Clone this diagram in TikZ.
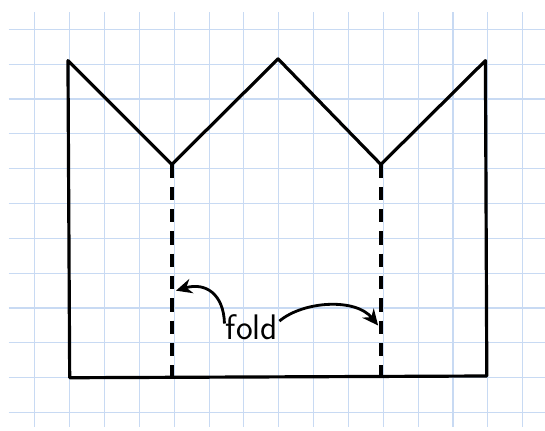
\documentclass[tikz,border=0pt]{standalone}
\usepackage{tikz}
\usetikzlibrary{arrows.meta}
\definecolor{GridBlue}{RGB}{200,218,243}

\begin{document}
\begin{tikzpicture}[
	gridline/.style={GridBlue, line width=0.9pt},
	outline/.style={line width=2.6pt, line join=round},
	foldline/.style={line width=3pt, dash pattern=on 0.38cm off 0.26cm},
	pointer/.style={line width=2.3pt, -{Stealth[length=13pt, width=12pt]}}
]
			\useasboundingbox (0,-0.5) rectangle (15.64,11.84);
			\draw[gridline] (0.25,-0.4) grid (15.64,11.49);
			% crown outline
			\coordinate (TL) at (1.95,10.1);
			\coordinate (V1) at (4.93,7.12);
			\coordinate (M) at (7.98,10.15);
			\coordinate (V2) at (10.93,7.12);
			\coordinate (TR) at (13.93,10.1);
			\coordinate (BR) at (13.97,1.05);
			\coordinate (BL) at (2.0,1.0);
			\draw[outline] (TL) -- (V1) -- (M) -- (V2) -- (TR) -- (BR) -- (BL) -- cycle;
			% fold lines
			\draw[foldline] (V1) -- (V1 |- BL);
			\draw[foldline] (V2) -- (V2 |- BL);
			% label
			\coordinate (LA) at (5.05,3.5);
			\coordinate (RA) at (10.85,2.5);
			\node[font=\sffamily\fontsize{29}{30}\selectfont, inner sep=1pt] (fold) at (7.23,2.45) {fold};
			\draw[pointer] ([yshift=3pt]fold.west) .. controls (6.42,3.4) and (5.9,3.75) .. (LA);
			\draw[pointer] ([yshift=5pt]fold.east) .. controls (8.7,3.2) and (10.2,3.3) .. (RA);
		\end{tikzpicture}
\end{document}
